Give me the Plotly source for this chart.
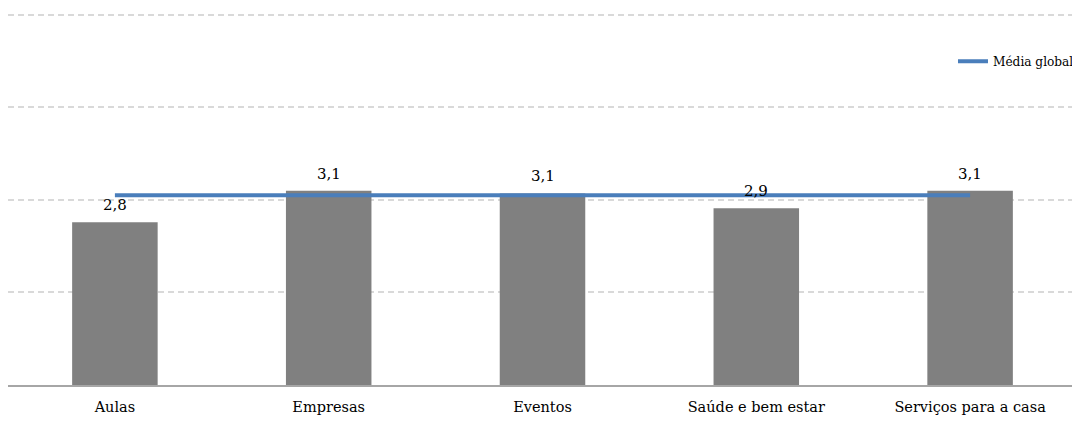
import plotly.graph_objects as go

categories = ["Aulas", "Empresas", "Eventos", "Saúde e bem estar", "Serviços para a casa"]
values = [2.76, 3.10, 3.07, 2.91, 3.10]
media_global = [3.05, 3.05, 3.05, 3.05, 3.05]

FONT = "DejaVu Serif"

fig = go.Figure()
fig.add_trace(go.Bar(
    x=categories, y=values, marker=dict(color="#808080", line=dict(width=0)),
    width=0.4, showlegend=False, hoverinfo="x+y",
))
fig.add_trace(go.Scatter(
    x=categories, y=media_global, mode="lines", name="Média global",
    line=dict(color="#4A7EBB", width=4),
))

annotations = [
    dict(x=c, y=v, xref="x", yref="y", text=f"{v:.1f}".replace(".", ","),
         showarrow=False, yanchor="bottom", yshift=6,
         font=dict(family=FONT, size=15, color="#000000"))
    for c, v in zip(categories, values)
]

fig.update_layout(
    width=1072, height=414,
    margin=dict(l=0, r=3, t=5, b=37),
    plot_bgcolor="white", paper_bgcolor="white",
    separators=",.",
    font=dict(family=FONT, size=14.5, color="#000000"),
    legend=dict(x=0.884, xanchor="left", y=0.87, yanchor="middle",
                font=dict(family="DejaVu Serif Condensed, DejaVu Serif", size=13.5),
                bgcolor="rgba(0,0,0,0)"),
    annotations=annotations,
)
fig.update_xaxes(showgrid=False, showline=True, linecolor="#A6A6A6", linewidth=2,
                 ticks="outside", ticklen=8, tickcolor="rgba(0,0,0,0)",
                 tickfont=dict(family=FONT, size=14.5))
fig.update_yaxes(range=[1, 5.02], tickvals=[1, 2, 3, 4, 5], showticklabels=False,
                 showgrid=True, gridcolor="#D9D9D9", griddash="6px,4px", gridwidth=2,
                 zeroline=False, showline=False)

fig.write_html("out.html")
